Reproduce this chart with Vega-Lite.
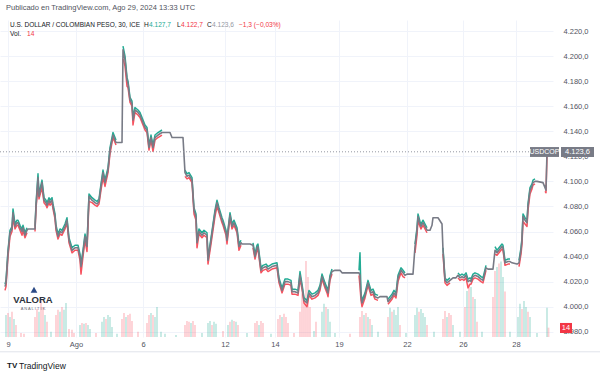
{
"$schema":"https://vega.github.io/schema/vega-lite/v6.json",
"width":553,"height":317,
"autosize":{"type":"none"},
"padding":{"top":20,"left":0,"right":47,"bottom":37},
"background":"#ffffff",
"config":{"view":{"stroke":null},"font":"Liberation Sans","axis":{"labelOverlap":false}},
"datasets":{
"px":[
{"b":0,"c":4016,"h":4018,"l":4013},{"b":2,"c":4019,"h":4021,"l":4016},{"b":6,"c":4043,"h":4045,"l":4040},{"b":10,"c":4059,"h":4061,"l":4056},{"b":14,"c":4062,"h":4064,"l":4060},{"b":16,"c":4075,"h":4078,"l":4071},{"b":20,"c":4064,"h":4066,"l":4062},{"b":24,"c":4067,"h":4069,"l":4065},{"b":26,"c":4067,"h":4069,"l":4065},{"b":30,"c":4063,"h":4065,"l":4061},{"b":34,"c":4060,"h":4062,"l":4057},{"b":36,"c":4063,"h":4065,"l":4061},{"b":40,"c":4057,"h":4059,"l":4055},{"b":44,"c":4061,"h":4063,"l":4059},
{"b":46,"c":4062},{"b":56,"c":4062},
{"b":60,"c":4062,"h":4064,"l":4060},{"b":62,"c":4080,"h":4082,"l":4078},{"b":66,"c":4103,"h":4106,"l":4098},{"b":68,"c":4088,"h":4090,"l":4086},{"b":74,"c":4099,"h":4101,"l":4095},{"b":78,"c":4085,"h":4087,"l":4083},{"b":82,"c":4083,"h":4085,"l":4081},{"b":84,"c":4081,"h":4083,"l":4079},{"b":88,"c":4085,"h":4087,"l":4083},{"b":90,"c":4083,"h":4085,"l":4081},{"b":94,"c":4085,"h":4087,"l":4083},{"b":96,"c":4080,"h":4082,"l":4078},{"b":100,"c":4072,"h":4074,"l":4070},{"b":102,"c":4063,"h":4065,"l":4061},{"b":106,"c":4056,"h":4058,"l":4054},{"b":110,"c":4060,"h":4062,"l":4058},{"b":114,"c":4059,"h":4061,"l":4057},{"b":120,"c":4064,"h":4066,"l":4062},{"b":124,"c":4069,"h":4071,"l":4067},{"b":128,"c":4053,"h":4055,"l":4051},{"b":134,"c":4045,"h":4047,"l":4043},{"b":140,"c":4047,"h":4049,"l":4045},{"b":146,"c":4047,"h":4049,"l":4045},{"b":150,"c":4040,"h":4042,"l":4037},{"b":152,"c":4032,"h":4034,"l":4026},{"b":156,"c":4043,"h":4045,"l":4040},{"b":160,"c":4056,"h":4058,"l":4053},{"b":164,"c":4048,"h":4050,"l":4044},{"b":168,"c":4088,"h":4090,"l":4084},{"b":174,"c":4085,"h":4087,"l":4083},{"b":180,"c":4083,"h":4085,"l":4081},{"b":184,"c":4082,"h":4084,"l":4080},{"b":188,"c":4084,"h":4086,"l":4082},{"b":192,"c":4096,"h":4098,"l":4093},{"b":196,"c":4107,"h":4109,"l":4103},{"b":200,"c":4099,"h":4101,"l":4096},{"b":206,"c":4109,"h":4111,"l":4107},{"b":210,"c":4125,"h":4127,"l":4122},{"b":214,"c":4133,"h":4135,"l":4131},{"b":216,"c":4137,"h":4139,"l":4135},{"b":222,"c":4131,"h":4133,"l":4129},
{"b":226,"c":4131},{"b":234,"c":4131},
{"b":236,"c":4205,"h":4208,"l":4198},{"b":240,"c":4197,"h":4200,"l":4192},{"b":244,"c":4181,"h":4183,"l":4176},{"b":246,"c":4178,"h":4180,"l":4175},{"b":250,"c":4165,"h":4167,"l":4163},{"b":254,"c":4162,"h":4164,"l":4160},{"b":256,"c":4149,"h":4151,"l":4145},{"b":260,"c":4157,"h":4159,"l":4155},{"b":266,"c":4155,"h":4157,"l":4153},{"b":270,"c":4153,"h":4155,"l":4151},{"b":276,"c":4147,"h":4149,"l":4145},{"b":280,"c":4143,"h":4145,"l":4141},{"b":284,"c":4141,"h":4143,"l":4139},{"b":288,"c":4127,"h":4129,"l":4125},{"b":292,"c":4135,"h":4137,"l":4133},{"b":296,"c":4127,"h":4129,"l":4124},{"b":300,"c":4135,"h":4137,"l":4133},{"b":306,"c":4137,"h":4139,"l":4135},{"b":314,"c":4139,"h":4141,"l":4137},
{"b":320,"c":4139},{"b":330,"c":4139},{"b":334,"c":4135},{"b":356,"c":4135},
{"b":360,"c":4107,"h":4109,"l":4104},{"b":364,"c":4104,"h":4106,"l":4102},{"b":368,"c":4105,"h":4107,"l":4103},{"b":374,"c":4101,"h":4103,"l":4099},{"b":378,"c":4077,"h":4079,"l":4074},{"b":382,"c":4072,"h":4074,"l":4069},{"b":384,"c":4051,"h":4053,"l":4047},{"b":388,"c":4060,"h":4062,"l":4058},{"b":394,"c":4057,"h":4059,"l":4055},{"b":398,"c":4059,"h":4061,"l":4057},{"b":404,"c":4057,"h":4059,"l":4055},{"b":406,"c":4037,"h":4039,"l":4034},{"b":412,"c":4053,"h":4055,"l":4050},{"b":416,"c":4064,"h":4066,"l":4061},{"b":420,"c":4075,"h":4077,"l":4072},{"b":424,"c":4083,"h":4085,"l":4080},{"b":428,"c":4077,"h":4079,"l":4075},{"b":434,"c":4069,"h":4071,"l":4067},{"b":436,"c":4067,"h":4069,"l":4065},{"b":442,"c":4059,"h":4061,"l":4057},{"b":444,"c":4053,"h":4055,"l":4050},{"b":450,"c":4073,"h":4075,"l":4071},{"b":454,"c":4064,"h":4066,"l":4062},{"b":458,"c":4067,"h":4069,"l":4065},{"b":464,"c":4061,"h":4063,"l":4059},{"b":468,"c":4048,"h":4050,"l":4045},{"b":472,"c":4051,"h":4053,"l":4049},
{"b":474,"c":4050},{"b":490,"c":4050},
{"b":496,"c":4049,"h":4051,"l":4047},{"b":500,"c":4040,"h":4042,"l":4038},{"b":504,"c":4047,"h":4049,"l":4045},{"b":506,"c":4048,"h":4050,"l":4046},{"b":512,"c":4029,"h":4031,"l":4027},{"b":516,"c":4031,"h":4033,"l":4029},{"b":522,"c":4032,"h":4034,"l":4030},{"b":526,"c":4030,"h":4032,"l":4028},{"b":534,"c":4032,"h":4034,"l":4030},{"b":544,"c":4033,"h":4035,"l":4031},{"b":548,"c":4021,"h":4023,"l":4019},{"b":554,"c":4013,"h":4015,"l":4011},{"b":560,"c":4020,"h":4022,"l":4018},{"b":566,"c":4020,"h":4022,"l":4018},{"b":572,"c":4019,"h":4021,"l":4017},{"b":574,"c":4012,"h":4014,"l":4010},{"b":580,"c":4012,"h":4014,"l":4010},{"b":586,"c":4011,"h":4013,"l":4009},{"b":590,"c":4025,"h":4028,"l":4022},{"b":594,"c":4016,"h":4018,"l":4014},{"b":598,"c":4005,"h":4007,"l":4003},{"b":604,"c":4003,"h":4005,"l":4000},{"b":608,"c":4011,"h":4013,"l":4009},{"b":614,"c":4008,"h":4010,"l":4006},{"b":620,"c":4009,"h":4011,"l":4007},{"b":626,"c":4011,"h":4013,"l":4009},{"b":630,"c":4015,"h":4017,"l":4013},{"b":634,"c":4024,"h":4026,"l":4022},{"b":640,"c":4017,"h":4019,"l":4015},{"b":644,"c":4013,"h":4015,"l":4011},{"b":646,"c":4011,"h":4013,"l":4008},{"b":650,"c":4023,"h":4025,"l":4021},{"b":654,"c":4028,"h":4030,"l":4026},
{"b":660,"c":4029},{"b":670,"c":4029},
{"b":674,"c":4027,"h":4029,"l":4024},
{"b":678,"c":4027},{"b":706,"c":4027},
{"b":708,"c":4027,"h":4029,"l":4025},{"b":710,"c":4025,"h":4043,"l":4016},{"b":712,"c":4008,"h":4011,"l":4005},{"b":714,"c":4003,"h":4005,"l":4000},{"b":720,"c":4009,"h":4011,"l":4007},{"b":726,"c":4019,"h":4021,"l":4017},{"b":732,"c":4011,"h":4013,"l":4009},{"b":736,"c":4012,"h":4014,"l":4010},{"b":740,"c":4008,"h":4010,"l":4006},{"b":746,"c":4007,"h":4009,"l":4005},
{"b":750,"c":4008},{"b":764,"c":4008},
{"b":766,"c":4004,"h":4006,"l":4002},{"b":770,"c":4006,"h":4008,"l":4004},{"b":774,"c":4008,"h":4010,"l":4006},{"b":778,"c":4011,"h":4013,"l":4009},{"b":782,"c":4009,"h":4011,"l":4007},{"b":786,"c":4023,"h":4025,"l":4020},{"b":792,"c":4029,"h":4031,"l":4027},{"b":796,"c":4027,"h":4029,"l":4024},{"b":800,"c":4025,"h":4027,"l":4023},
{"b":804,"c":4026},{"b":816,"c":4026},
{"b":820,"c":4048,"h":4050,"l":4043},{"b":824,"c":4061,"h":4063,"l":4057},{"b":826,"c":4072,"h":4074,"l":4069},{"b":830,"c":4066,"h":4068,"l":4064},{"b":832,"c":4064,"h":4066,"l":4062},{"b":836,"c":4067,"h":4069,"l":4065},{"b":840,"c":4064,"h":4066,"l":4062},{"b":844,"c":4061,"h":4063,"l":4059},
{"b":850,"c":4061},{"b":854,"c":4065},{"b":856,"c":4071},{"b":866,"c":4071},{"b":874,"c":4066},
{"b":876,"c":4045,"h":4047,"l":4042},{"b":880,"c":4021,"h":4023,"l":4019},{"b":884,"c":4019,"h":4021,"l":4017},{"b":890,"c":4021,"h":4023,"l":4019},
{"b":896,"c":4023},{"b":902,"c":4023},
{"b":906,"c":4025,"h":4027,"l":4023},{"b":910,"c":4023,"h":4025,"l":4021},{"b":914,"c":4024,"h":4026,"l":4022},{"b":918,"c":4023,"h":4025,"l":4021},{"b":922,"c":4025,"h":4027,"l":4023},{"b":926,"c":4020,"h":4022,"l":4015},{"b":930,"c":4021,"h":4023,"l":4018},{"b":932,"c":4020,"h":4022,"l":4018},{"b":936,"c":4024,"h":4026,"l":4022},{"b":940,"c":4025,"h":4027,"l":4023},{"b":946,"c":4024,"h":4026,"l":4022},{"b":952,"c":4022,"h":4024,"l":4020},{"b":956,"c":4021,"h":4023,"l":4019},{"b":962,"c":4031,"h":4033,"l":4029},
{"b":966,"c":4030},{"b":976,"c":4030},
{"b":980,"c":4045,"h":4048,"l":4042},{"b":984,"c":4043,"h":4045,"l":4041},{"b":988,"c":4045,"h":4047,"l":4043},{"b":994,"c":4048,"h":4050,"l":4046},{"b":996,"c":4047,"h":4049,"l":4045},{"b":1000,"c":4035,"h":4037,"l":4033},{"b":1006,"c":4036,"h":4038,"l":4034},{"b":1010,"c":4036,"h":4038,"l":4034},
{"b":1014,"c":4035},{"b":1024,"c":4034},
{"b":1028,"c":4035,"h":4037,"l":4032},{"b":1032,"c":4045,"h":4047,"l":4042},{"b":1034,"c":4053,"h":4055,"l":4050},{"b":1036,"c":4072,"h":4074,"l":4068},{"b":1040,"c":4069,"h":4071,"l":4066},{"b":1044,"c":4067,"h":4069,"l":4064},{"b":1046,"c":4080,"h":4082,"l":4077},{"b":1050,"c":4093,"h":4095,"l":4090},{"b":1054,"c":4096,"h":4098,"l":4094},{"b":1056,"c":4099,"h":4101,"l":4097},{"b":1060,"c":4100,"h":4102,"l":4098},
{"b":1064,"c":4100},{"b":1076,"c":4099},
{"b":1080,"c":4095,"h":4097,"l":4092},{"b":1082,"c":4093,"h":4095,"l":4091},{"b":1084,"c":4123.6,"l":4121}
],
"vol":[
{"b":2,"v":33,"u":1},{"b":6,"v":36,"u":0},{"b":10,"v":30,"u":1},{"b":14,"v":38,"u":0},{"b":18,"v":27,"u":1},{"b":22,"v":18,"u":0},
{"b":32,"v":6,"u":0},{"b":38,"v":5,"u":0},
{"b":60,"v":30,"u":0},{"b":64,"v":42,"u":0},{"b":68,"v":38,"u":1},{"b":72,"v":56,"u":0},{"b":76,"v":45,"u":0},{"b":80,"v":33,"u":1},{"b":84,"v":23,"u":0},
{"b":92,"v":8,"u":1},
{"b":102,"v":33,"u":0},{"b":106,"v":41,"u":0},{"b":110,"v":38,"u":1},{"b":114,"v":45,"u":0},{"b":118,"v":41,"u":1},{"b":122,"v":51,"u":1},
{"b":128,"v":12,"u":0},{"b":134,"v":11,"u":0},{"b":138,"v":6,"u":0},
{"b":150,"v":18,"u":1},{"b":154,"v":21,"u":0},{"b":158,"v":20,"u":1},{"b":162,"v":21,"u":0},{"b":166,"v":18,"u":1},{"b":170,"v":12,"u":1},
{"b":182,"v":6,"u":0},
{"b":194,"v":23,"u":1},{"b":198,"v":30,"u":1},{"b":202,"v":27,"u":0},{"b":206,"v":33,"u":1},{"b":210,"v":30,"u":1},{"b":214,"v":15,"u":1},
{"b":224,"v":5,"u":1},
{"b":234,"v":27,"u":0},{"b":238,"v":36,"u":0},{"b":242,"v":30,"u":1},{"b":246,"v":33,"u":0},{"b":250,"v":35,"u":0},{"b":254,"v":24,"u":0},
{"b":266,"v":8,"u":0},
{"b":284,"v":21,"u":0},{"b":288,"v":33,"u":0},{"b":292,"v":36,"u":1},{"b":296,"v":33,"u":0},{"b":300,"v":30,"u":1},{"b":304,"v":45,"u":1},
{"b":312,"v":8,"u":1},{"b":320,"v":5,"u":1},{"b":342,"v":3,"u":1},
{"b":360,"v":18,"u":0},{"b":364,"v":24,"u":0},{"b":368,"v":23,"u":0},{"b":372,"v":21,"u":1},{"b":376,"v":24,"u":0},{"b":380,"v":18,"u":0},
{"b":394,"v":6,"u":1},
{"b":406,"v":21,"u":1},{"b":410,"v":24,"u":1},{"b":414,"v":18,"u":0},{"b":418,"v":23,"u":1},{"b":422,"v":20,"u":1},
{"b":436,"v":9,"u":0},
{"b":446,"v":18,"u":1},{"b":450,"v":23,"u":0},{"b":454,"v":26,"u":1},{"b":458,"v":24,"u":0},{"b":462,"v":23,"u":1},{"b":466,"v":18,"u":0},
{"b":484,"v":6,"u":1},
{"b":500,"v":21,"u":0},{"b":504,"v":24,"u":0},{"b":508,"v":18,"u":1},{"b":512,"v":24,"u":0},{"b":516,"v":21,"u":0},
{"b":532,"v":5,"u":1},
{"b":546,"v":27,"u":0},{"b":550,"v":33,"u":0},{"b":554,"v":30,"u":1},{"b":558,"v":35,"u":0},{"b":562,"v":30,"u":0},{"b":566,"v":21,"u":0},
{"b":578,"v":6,"u":0},
{"b":590,"v":38,"u":0},{"b":594,"v":65,"u":0},{"b":598,"v":60,"u":0},{"b":602,"v":114,"u":0},{"b":606,"v":90,"u":0},{"b":610,"v":45,"u":0},
{"b":618,"v":9,"u":1},{"b":622,"v":23,"u":0},
{"b":634,"v":38,"u":1},{"b":638,"v":50,"u":1},{"b":642,"v":45,"u":0},{"b":646,"v":42,"u":1},{"b":650,"v":23,"u":1},
{"b":660,"v":6,"u":1},{"b":690,"v":5,"u":0},
{"b":710,"v":30,"u":0},{"b":714,"v":39,"u":0},{"b":718,"v":33,"u":1},{"b":722,"v":36,"u":0},{"b":726,"v":30,"u":1},{"b":730,"v":27,"u":0},{"b":734,"v":18,"u":1},
{"b":746,"v":8,"u":1},
{"b":766,"v":30,"u":0},{"b":770,"v":44,"u":1},{"b":774,"v":38,"u":0},{"b":778,"v":41,"u":1},{"b":782,"v":33,"u":1},{"b":786,"v":45,"u":1},{"b":790,"v":18,"u":0},
{"b":802,"v":6,"u":1},
{"b":820,"v":33,"u":1},{"b":824,"v":44,"u":1},{"b":828,"v":38,"u":0},{"b":832,"v":42,"u":1},{"b":836,"v":36,"u":1},{"b":840,"v":30,"u":1},{"b":844,"v":18,"u":0},
{"b":858,"v":8,"u":1},
{"b":876,"v":27,"u":0},{"b":880,"v":39,"u":0},{"b":884,"v":30,"u":1},{"b":888,"v":36,"u":0},{"b":892,"v":33,"u":0},{"b":896,"v":18,"u":1},
{"b":910,"v":8,"u":1},
{"b":920,"v":45,"u":0},{"b":924,"v":69,"u":1},{"b":928,"v":80,"u":0},{"b":932,"v":75,"u":1},{"b":936,"v":60,"u":0},{"b":940,"v":57,"u":1},{"b":944,"v":23,"u":0},
{"b":954,"v":8,"u":1},
{"b":976,"v":60,"u":0},{"b":980,"v":99,"u":0},{"b":984,"v":105,"u":1},{"b":988,"v":110,"u":0},{"b":992,"v":113,"u":1},{"b":996,"v":90,"u":1},{"b":1000,"v":68,"u":0},
{"b":1010,"v":8,"u":1},
{"b":1026,"v":30,"u":1},{"b":1030,"v":50,"u":1},{"b":1034,"v":42,"u":0},{"b":1038,"v":54,"u":1},{"b":1042,"v":45,"u":1},{"b":1046,"v":38,"u":0},{"b":1050,"v":30,"u":1},
{"b":1064,"v":6,"u":1},
{"b":1084,"v":44,"u":1},{"b":1087,"v":14,"u":0}
]
},
"layer":[
{"data":{"name":"vol"},
 "mark":{"type":"bar","width":1.8,"opacity":0.27},
 "encoding":{
  "x":{"field":"b","type":"quantitative","scale":{"domain":[-10,1096],"nice":false,"zero":false,"padding":0},
   "axis":{"orient":"bottom","values":[6,142,276,440,540,668,804,916,1022],"tickCount":20,
    "labelExpr":"datum.value==6?'9':datum.value==142?'Ago':datum.value==276?'6':datum.value==440?'12':datum.value==540?'14':datum.value==668?'19':datum.value==804?'22':datum.value==916?'26':'28'",
    "grid":true,"gridColor":"#f0f3fa","domain":false,"ticks":false,"labelPadding":3,"labelFontSize":7.5,"labelColor":"#50535e","title":null,"labelFont":"Liberation Sans","labelOverlap":false}},
  "y":{"field":"v","type":"quantitative","scale":{"domain":[0,475],"nice":false},"axis":null},
  "color":{"field":"u","type":"nominal","scale":{"domain":[0,1],"range":["#f7525f","#22ab94"]},"legend":null}
 }},
{"data":{"values":[{}]},
 "layer":[
 {"data":{"name":"px"},
  "mark":{"type":"line","color":"#22ab94","strokeWidth":1.5,"strokeJoin":"round"},
  "encoding":{
   "x":{"field":"b","type":"quantitative","scale":{"domain":[-10,1096],"nice":false,"zero":false,"padding":0}},
   "y":{"field":"h","type":"quantitative","scale":{"domain":[3975.8,4228.8],"nice":false,"zero":false},
    "axis":{"orient":"right","values":[3980,4000,4020,4040,4060,4080,4100,4120,4140,4160,4180,4200,4220],"tickCount":20,
     "labelExpr":"replace(replace(replace(format(datum.value, ',.1f'), ',', '#'), '.', ','), '#', '.')",
     "grid":true,"gridColor":"#f0f3fa","domain":false,"ticks":false,"labelPadding":10,"labelFontSize":7.5,"labelColor":"#50535e","title":null,"labelFont":"Liberation Sans","labelOverlap":false}}
  }},
 {"data":{"name":"px"},
  "mark":{"type":"line","color":"#f7525f","strokeWidth":1.5,"strokeJoin":"round"},
  "encoding":{
   "x":{"field":"b","type":"quantitative"},
   "y":{"field":"l","type":"quantitative"}
  }},
 {"data":{"name":"px"},
  "mark":{"type":"line","color":"#787b86","strokeWidth":1.6,"strokeJoin":"round"},
  "encoding":{
   "x":{"field":"b","type":"quantitative"},
   "y":{"field":"c","type":"quantitative"}
  }},
 {"mark":{"type":"rule","color":"#9598a1","strokeDash":[1,2],"strokeWidth":1},
  "encoding":{"y":{"datum":4123.6,"type":"quantitative"}}},
 {"mark":{"type":"rect","color":"#787b86"},
  "encoding":{"x":{"datum":1050,"type":"quantitative"},"x2":{"datum":1108},"y":{"datum":4127.4,"type":"quantitative"},"y2":{"datum":4119.5}}},
 {"mark":{"type":"rect","color":"#787b86"},
  "encoding":{"x":{"datum":1112,"type":"quantitative"},"x2":{"datum":1178},"y":{"datum":4127.4,"type":"quantitative"},"y2":{"datum":4119.5}}},
 {"mark":{"type":"text","text":"USDCOP","color":"#ffffff","fontSize":7,"align":"center","baseline":"middle"},
  "encoding":{"x":{"datum":1079,"type":"quantitative"},"y":{"datum":4123.4,"type":"quantitative"}}},
 {"mark":{"type":"text","text":"4.123,6","color":"#ffffff","fontSize":7.5,"align":"center","baseline":"middle"},
  "encoding":{"x":{"datum":1145,"type":"quantitative"},"y":{"datum":4123.4,"type":"quantitative"}}},
 {"mark":{"type":"rect","color":"#f23645"},
  "encoding":{"x":{"datum":1110,"type":"quantitative"},"x2":{"datum":1134},"y":{"datum":3987,"type":"quantitative"},"y2":{"datum":3979}}},
 {"mark":{"type":"text","text":"14","color":"#ffffff","fontSize":7.5,"align":"center","baseline":"middle"},
  "encoding":{"x":{"datum":1122,"type":"quantitative"},"y":{"datum":3983,"type":"quantitative"}}},
 {"mark":{"type":"text","text":"Publicado en TradingView.com, Ago 29, 2024 13:33 UTC","color":"#50535e","fontSize":7.5,"align":"left","baseline":"middle"},
  "encoding":{"x":{"datum":2,"type":"quantitative"},"y":{"datum":4238.4,"type":"quantitative"}}},
 {"mark":{"type":"text","text":"U.S. DOLLAR / COLOMBIAN PESO, 30, ICE","color":"#131722","fontSize":6.5,"align":"left","baseline":"middle"},
  "encoding":{"x":{"datum":10,"type":"quantitative"},"y":{"datum":4224.8,"type":"quantitative"}}},
 {"mark":{"type":"text","text":"H","color":"#131722","fontSize":6.6,"align":"left","baseline":"middle"},
  "encoding":{"x":{"datum":278,"type":"quantitative"},"y":{"datum":4224.8,"type":"quantitative"}}},
 {"mark":{"type":"text","text":"4.127,7","color":"#22ab94","fontSize":6.6,"align":"left","baseline":"middle"},
  "encoding":{"x":{"datum":288,"type":"quantitative"},"y":{"datum":4224.8,"type":"quantitative"}}},
 {"mark":{"type":"text","text":"L","color":"#131722","fontSize":6.6,"align":"left","baseline":"middle"},
  "encoding":{"x":{"datum":344,"type":"quantitative"},"y":{"datum":4224.8,"type":"quantitative"}}},
 {"mark":{"type":"text","text":"4.122,7","color":"#f23645","fontSize":6.6,"align":"left","baseline":"middle"},
  "encoding":{"x":{"datum":352,"type":"quantitative"},"y":{"datum":4224.8,"type":"quantitative"}}},
 {"mark":{"type":"text","text":"C","color":"#131722","fontSize":6.6,"align":"left","baseline":"middle"},
  "encoding":{"x":{"datum":404,"type":"quantitative"},"y":{"datum":4224.8,"type":"quantitative"}}},
 {"mark":{"type":"text","text":"4.123,6","color":"#9598a1","fontSize":6.6,"align":"left","baseline":"middle"},
  "encoding":{"x":{"datum":414,"type":"quantitative"},"y":{"datum":4224.8,"type":"quantitative"}}},
 {"mark":{"type":"text","text":"−1,3 (−0,03%)","color":"#f23645","fontSize":6.6,"align":"left","baseline":"middle"},
  "encoding":{"x":{"datum":468,"type":"quantitative"},"y":{"datum":4224.8,"type":"quantitative"}}},
 {"mark":{"type":"text","text":"Vol.","color":"#131722","fontSize":6.6,"align":"left","baseline":"middle"},
  "encoding":{"x":{"datum":10,"type":"quantitative"},"y":{"datum":4217.4,"type":"quantitative"}}},
 {"mark":{"type":"text","text":"14","color":"#f23645","fontSize":6.6,"align":"left","baseline":"middle"},
  "encoding":{"x":{"datum":44,"type":"quantitative"},"y":{"datum":4217.4,"type":"quantitative"}}},
 {"mark":{"type":"point","shape":"triangle-up","filled":true,"color":"#2b4a86","size":45,"opacity":1},
  "encoding":{"x":{"datum":58,"type":"quantitative"},"y":{"datum":4013.5,"type":"quantitative"}}},
 {"mark":{"type":"text","text":"VALORA","color":"#2d3340","fontSize":9.5,"fontWeight":"bold","align":"center","baseline":"middle"},
  "encoding":{"x":{"datum":56,"type":"quantitative"},"y":{"datum":4005.5,"type":"quantitative"}}},
 {"mark":{"type":"text","text":"A N A L I T I K","color":"#6a6d78","fontSize":4,"align":"center","baseline":"middle"},
  "encoding":{"x":{"datum":56,"type":"quantitative"},"y":{"datum":3998.3,"type":"quantitative"}}},
 {"mark":{"type":"rule","color":"#e0e3eb","strokeWidth":1},
  "encoding":{"x":{"datum":-10,"type":"quantitative"},"x2":{"datum":1190},"y":{"datum":3964,"type":"quantitative"}}},
 {"mark":{"type":"text","text":"TV","color":"#131722","fontSize":8,"fontWeight":"bold","align":"left","baseline":"middle"},
  "encoding":{"x":{"datum":4,"type":"quantitative"},"y":{"datum":3953,"type":"quantitative"}}},
 {"mark":{"type":"text","text":"TradingView","color":"#131722","fontSize":8.5,"align":"left","baseline":"middle"},
  "encoding":{"x":{"datum":28,"type":"quantitative"},"y":{"datum":3953,"type":"quantitative"}}}
]}
],
"resolve":{"scale":{"y":"independent"}}
}
